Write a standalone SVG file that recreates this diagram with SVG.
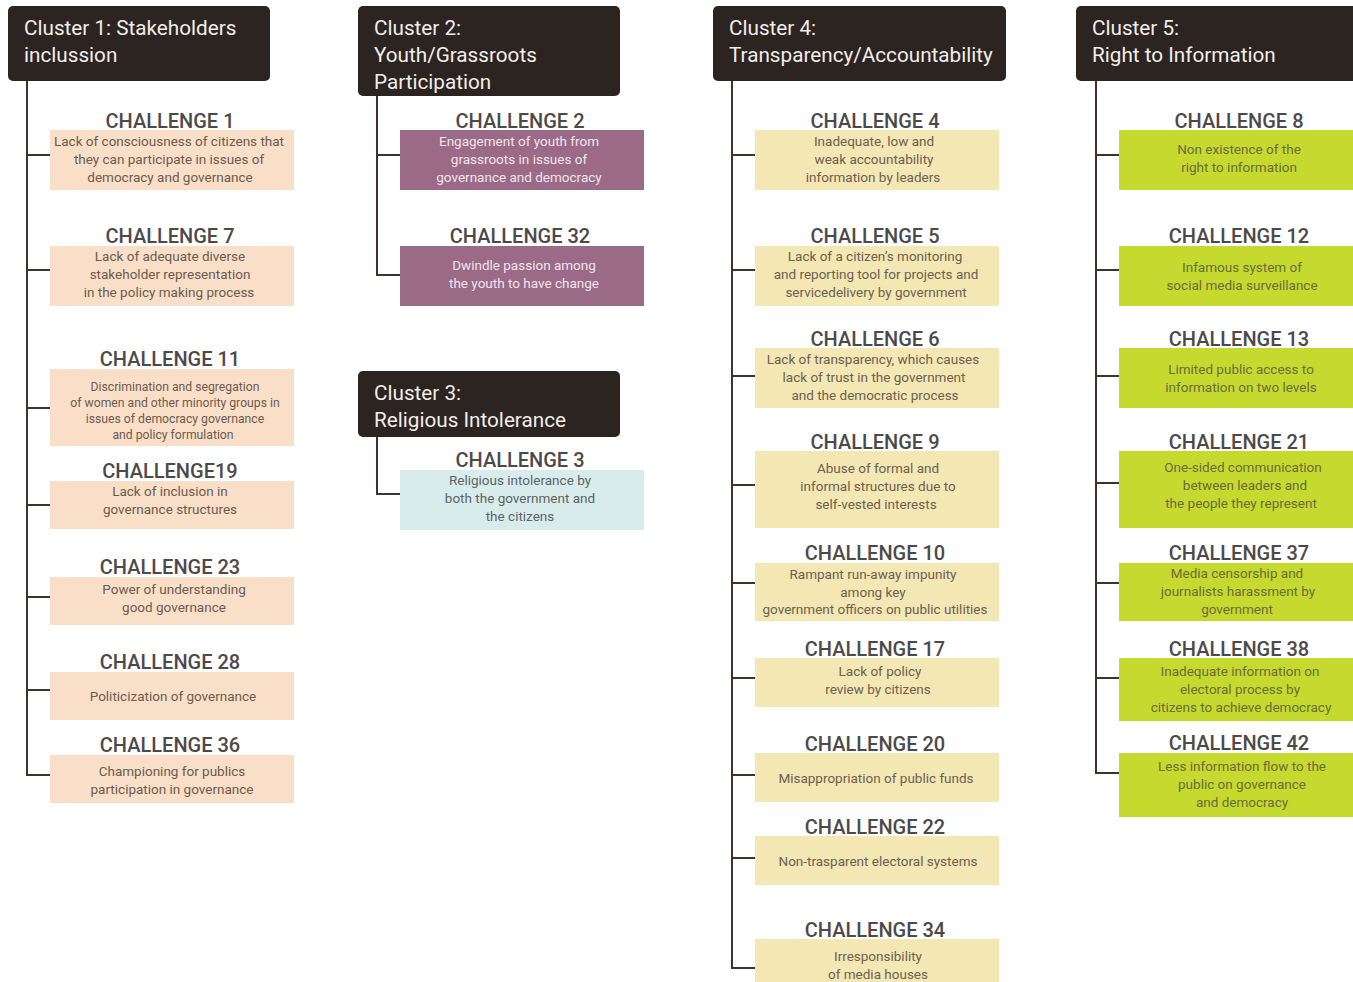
<svg xmlns="http://www.w3.org/2000/svg" width="1353" height="982" viewBox="0 0 1353 982">
<style>
.hdr{fill:#2b2421}
.ht{font-family:Roboto,"Liberation Sans",sans-serif;font-size:20.7px;fill:#f2ede9}
.tt{font-family:Roboto,"Liberation Sans",sans-serif;font-size:20px;font-weight:500;fill:#4d4949;text-anchor:middle}
.bt{font-family:Roboto,"Liberation Sans",sans-serif;font-size:13.5px;text-anchor:middle}
.pe{fill:#f9dfc7}.pe-t{fill:#6e5b50}
.mv{fill:#9a6a86}.mv-t{fill:#f3e4ec}
.cy{fill:#d8edeb}.cy-t{fill:#5e6464}
.ye{fill:#f3e7b4}.ye-t{fill:#6d6150}
.gr{fill:#c6d92e}.gr-t{fill:#6a6d3c}
.ln{stroke:#3b3431;stroke-width:2;fill:none}
</style>
<rect width="1353" height="982" fill="#ffffff"/>

<g id="connectors">
<path class="ln" d="M27 81V775H50M27 155H50M27 270H50M27 408H50M27 505H50M27 597H50M27 690H50"/>
<path class="ln" d="M377 96V275H400M377 155H400"/>
<path class="ln" d="M377 437V494H400"/>
<path class="ln" d="M732 81V968H755M732 155H755M732 270H755M732 376H755M732 485H755M732 583H755M732 678H755M732 775H755M732 858H755"/>
<path class="ln" d="M1096 81V773H1119M1096 155H1119M1096 270H1119M1096 376H1119M1096 483H1119M1096 583H1119M1096 678H1119"/>
</g>

<g id="cluster1">
<rect class="hdr" x="8" y="6" width="262" height="75" rx="5"/>
<text class="ht" x="24" y="35">Cluster 1: Stakeholders</text>
<text class="ht" x="24" y="62">inclussion</text>
</g>
<g id="cluster2">
<rect class="hdr" x="358" y="6" width="262" height="90" rx="5"/>
<text class="ht" x="374" y="35">Cluster 2:</text>
<text class="ht" x="374" y="62">Youth/Grassroots</text>
<text class="ht" x="374" y="89">Participation</text>
</g>
<g id="cluster3">
<rect class="hdr" x="358" y="371" width="262" height="66" rx="5"/>
<text class="ht" x="374" y="400">Cluster 3:</text>
<text class="ht" x="374" y="427">Religious Intolerance</text>
</g>
<g id="cluster4">
<rect class="hdr" x="713" y="6" width="293" height="75" rx="5"/>
<text class="ht" x="729" y="35">Cluster 4:</text>
<text class="ht" x="729" y="62">Transparency/Accountability</text>
</g>
<g id="cluster5">
<rect class="hdr" x="1076" y="6" width="290" height="75" rx="5"/>
<text class="ht" x="1092" y="35">Cluster 5:</text>
<text class="ht" x="1092" y="62">Right to Information</text>
</g>

<!-- Cluster 1 challenges -->
<g id="ch1"><text class="tt" x="170" y="128">CHALLENGE 1</text><rect class="pe" x="50" y="130" width="244" height="60"/>
<text class="bt pe-t" x="169" y="146">Lack of consciousness of citizens that</text><text class="bt pe-t" x="169" y="164">they can participate in issues of</text><text class="bt pe-t" x="170" y="182">democracy and governance</text></g>
<g id="ch7"><text class="tt" x="170" y="243">CHALLENGE 7</text><rect class="pe" x="50" y="246" width="244" height="60"/>
<text class="bt pe-t" x="170" y="261">Lack of adequate diverse</text><text class="bt pe-t" x="170" y="279">stakeholder representation</text><text class="bt pe-t" x="169" y="297">in the policy making process</text></g>
<g id="ch11"><text class="tt" x="170" y="366">CHALLENGE 11</text><rect class="pe" x="50" y="369" width="244" height="77"/>
<text class="bt pe-t" x="175" y="391" style="font-size:12.2px">Discrimination and segregation</text><text class="bt pe-t" x="175" y="407" style="font-size:12.2px">of women and other minority groups in</text><text class="bt pe-t" x="175" y="423" style="font-size:12.2px">issues of democracy governance</text><text class="bt pe-t" x="173" y="439" style="font-size:12.2px">and policy formulation</text></g>
<g id="ch19"><text class="tt" x="170" y="478">CHALLENGE19</text><rect class="pe" x="50" y="481" width="244" height="48"/>
<text class="bt pe-t" x="170" y="496">Lack of inclusion in</text><text class="bt pe-t" x="170" y="514">governance structures</text></g>
<g id="ch23"><text class="tt" x="170" y="574">CHALLENGE 23</text><rect class="pe" x="50" y="577" width="244" height="48"/>
<text class="bt pe-t" x="174" y="594">Power of understanding</text><text class="bt pe-t" x="174" y="612">good governance</text></g>
<g id="ch28"><text class="tt" x="170" y="669">CHALLENGE 28</text><rect class="pe" x="50" y="672" width="244" height="48"/>
<text class="bt pe-t" x="173" y="701">Politicization of governance</text></g>
<g id="ch36"><text class="tt" x="170" y="752">CHALLENGE 36</text><rect class="pe" x="50" y="755" width="244" height="48"/>
<text class="bt pe-t" x="172" y="776">Championing for publics</text><text class="bt pe-t" x="172" y="794">participation in governance</text></g>

<!-- Cluster 2 -->
<g id="ch2"><text class="tt" x="520" y="128">CHALLENGE 2</text><rect class="mv" x="400" y="130" width="244" height="60"/>
<text class="bt mv-t" x="519" y="146">Engagement of youth from</text><text class="bt mv-t" x="519" y="164">grassroots in issues of</text><text class="bt mv-t" x="519" y="182">governance and democracy</text></g>
<g id="ch32"><text class="tt" x="520" y="243">CHALLENGE 32</text><rect class="mv" x="400" y="246" width="244" height="60"/>
<text class="bt mv-t" x="524" y="270">Dwindle passion among</text><text class="bt mv-t" x="524" y="288">the youth to have change</text></g>

<!-- Cluster 3 -->
<g id="ch3"><text class="tt" x="520" y="467">CHALLENGE 3</text><rect class="cy" x="400" y="470" width="244" height="60"/>
<text class="bt cy-t" x="520" y="485">Religious intolerance by</text><text class="bt cy-t" x="520" y="503">both the government and</text><text class="bt cy-t" x="520" y="521">the citizens</text></g>

<!-- Cluster 4 -->
<g id="ch4"><text class="tt" x="875" y="128">CHALLENGE 4</text><rect class="ye" x="755" y="130" width="244" height="60"/>
<text class="bt ye-t" x="874" y="146">Inadequate, low and</text><text class="bt ye-t" x="874" y="164">weak accountability</text><text class="bt ye-t" x="873" y="182">information by leaders</text></g>
<g id="ch5"><text class="tt" x="875" y="243">CHALLENGE 5</text><rect class="ye" x="755" y="246" width="244" height="60"/>
<text class="bt ye-t" x="875" y="261">Lack of a citizen’s monitoring</text><text class="bt ye-t" x="876" y="279">and reporting tool for projects and</text><text class="bt ye-t" x="876" y="297">servicedelivery by government</text></g>
<g id="ch6"><text class="tt" x="875" y="346">CHALLENGE 6</text><rect class="ye" x="755" y="348" width="244" height="60"/>
<text class="bt ye-t" x="873" y="364">Lack of transparency, which causes</text><text class="bt ye-t" x="874" y="382">lack of trust in the government</text><text class="bt ye-t" x="875" y="400">and the democratic process</text></g>
<g id="ch9"><text class="tt" x="875" y="449">CHALLENGE 9</text><rect class="ye" x="755" y="451" width="244" height="77"/>
<text class="bt ye-t" x="878" y="473">Abuse of formal and</text><text class="bt ye-t" x="878" y="491">informal structures due to</text><text class="bt ye-t" x="876" y="509">self-vested interests</text></g>
<g id="ch10"><text class="tt" x="875" y="560">CHALLENGE 10</text><rect class="ye" x="755" y="563" width="244" height="58"/>
<text class="bt ye-t" x="873" y="579">Rampant run-away impunity</text><text class="bt ye-t" x="873" y="597">among key</text><text class="bt ye-t" x="875" y="614">government officers on public utilities</text></g>
<g id="ch17"><text class="tt" x="875" y="656">CHALLENGE 17</text><rect class="ye" x="755" y="658" width="244" height="49"/>
<text class="bt ye-t" x="880" y="676">Lack of policy</text><text class="bt ye-t" x="878" y="694">review by citizens</text></g>
<g id="ch20"><text class="tt" x="875" y="751">CHALLENGE 20</text><rect class="ye" x="755" y="753" width="244" height="49"/>
<text class="bt ye-t" x="876" y="783">Misappropriation of public funds</text></g>
<g id="ch22"><text class="tt" x="875" y="834">CHALLENGE 22</text><rect class="ye" x="755" y="836" width="244" height="49"/>
<text class="bt ye-t" x="878" y="866">Non-trasparent electoral systems</text></g>
<g id="ch34"><text class="tt" x="875" y="937">CHALLENGE 34</text><rect class="ye" x="755" y="939" width="244" height="48"/>
<text class="bt ye-t" x="878" y="961">Irresponsibility</text><text class="bt ye-t" x="878" y="979">of media houses</text></g>

<!-- Cluster 5 -->
<g id="ch8"><text class="tt" x="1239" y="128">CHALLENGE 8</text><rect class="gr" x="1119" y="130" width="240" height="60"/>
<text class="bt gr-t" x="1239" y="154">Non existence of the</text><text class="bt gr-t" x="1239" y="172">right to information</text></g>
<g id="ch12"><text class="tt" x="1239" y="243">CHALLENGE 12</text><rect class="gr" x="1119" y="246" width="240" height="60"/>
<text class="bt gr-t" x="1242" y="272">Infamous system of</text><text class="bt gr-t" x="1242" y="290">social media surveillance</text></g>
<g id="ch13"><text class="tt" x="1239" y="346">CHALLENGE 13</text><rect class="gr" x="1119" y="348" width="240" height="60"/>
<text class="bt gr-t" x="1241" y="374">Limited public access to</text><text class="bt gr-t" x="1241" y="392">information on two levels</text></g>
<g id="ch21"><text class="tt" x="1239" y="449">CHALLENGE 21</text><rect class="gr" x="1119" y="451" width="240" height="77"/>
<text class="bt gr-t" x="1243" y="472">One-sided communication</text><text class="bt gr-t" x="1245" y="490">between leaders and</text><text class="bt gr-t" x="1241" y="508">the people they represent</text></g>
<g id="ch37"><text class="tt" x="1239" y="560">CHALLENGE 37</text><rect class="gr" x="1119" y="563" width="240" height="58"/>
<text class="bt gr-t" x="1237" y="578">Media censorship and</text><text class="bt gr-t" x="1238" y="596">journalists harassment by</text><text class="bt gr-t" x="1237" y="614">government</text></g>
<g id="ch38"><text class="tt" x="1239" y="656">CHALLENGE 38</text><rect class="gr" x="1119" y="658" width="240" height="63"/>
<text class="bt gr-t" x="1240" y="676">Inadequate information on</text><text class="bt gr-t" x="1240" y="694">electoral process by</text><text class="bt gr-t" x="1241" y="712">citizens to achieve democracy</text></g>
<g id="ch42"><text class="tt" x="1239" y="750">CHALLENGE 42</text><rect class="gr" x="1119" y="753" width="240" height="64"/>
<text class="bt gr-t" x="1242" y="771">Less information flow to the</text><text class="bt gr-t" x="1242" y="789">public on governance</text><text class="bt gr-t" x="1242" y="807">and democracy</text></g>
</svg>
